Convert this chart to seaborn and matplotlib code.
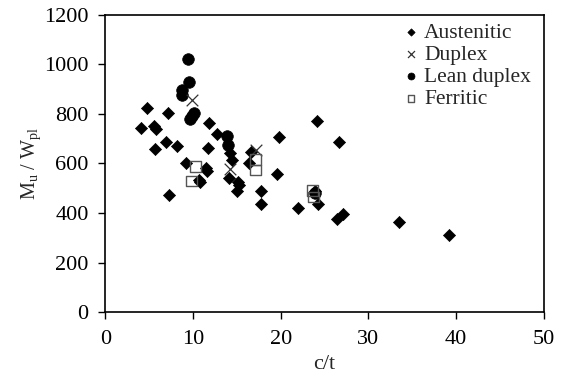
import matplotlib
matplotlib.use("Agg")
import matplotlib.pyplot as plt
import seaborn as sns
from matplotlib import font_manager

# Data (c/t vs Mu/Wpl)
austenitic_x = [4.8, 7.2, 4.05, 5.6, 5.8, 11.8, 12.7, 19.8, 5.7, 6.9, 8.2, 11.7, 14.2,
                14.5, 16.6, 16.4, 9.2, 11.5, 11.6, 14.1, 15.1, 15.2, 15.0, 17.8, 17.8,
                7.3, 22.0, 24.1, 26.6, 19.6, 10.7, 10.8, 23.9, 24.3, 26.4, 27.1, 33.5, 39.2]
austenitic_y = [823, 805, 745, 752, 741, 762, 719, 707, 660, 685, 669, 664, 641,
                615, 648, 604, 604, 580, 571, 540, 527, 513, 490, 490, 438,
                473, 419, 772, 686, 556, 533, 524, 490, 437, 375, 396, 362, 311]

duplex_x = [9.9, 14.2, 17.2]
duplex_y = [857, 578, 656]

lean_x = [9.4, 9.6, 8.8, 8.8, 10.1, 9.9, 9.7, 13.85, 14.0, 23.9]
lean_y = [1021, 928, 897, 876, 802, 790, 778, 711, 675, 482]

ferritic_x = [10.3, 9.8, 17.1, 17.1, 23.6, 23.7]
ferritic_y = [587, 529, 617, 574, 492, 465]

# Times-like font
names = {f.name for f in font_manager.fontManager.ttflist}
serif = [n for n in ["Liberation Serif", "Nimbus Roman", "DejaVu Serif"] if n in names]

sns.set_style("ticks")
plt.rcParams['font.family'] = serif
plt.rcParams['mathtext.fontset'] = 'custom'
plt.rcParams['mathtext.rm'] = serif[0]
plt.rcParams['mathtext.it'] = serif[0] + ':italic'

fig = plt.figure(figsize=(5.63, 3.82), dpi=100)
ax = fig.add_axes([0.187, 0.183, 0.779, 0.778])

sns.scatterplot(x=austenitic_x, y=austenitic_y, marker="D", s=38, color="black",
                edgecolor="black", linewidth=0.5, label="Austenitic", ax=ax, zorder=3)
sns.scatterplot(x=duplex_x, y=duplex_y, marker="x", s=70, color="#333333",
                linewidth=0.9, label="Duplex", ax=ax, zorder=4)
sns.scatterplot(x=lean_x, y=lean_y, marker="o", s=70, color="black",
                edgecolor="black", linewidth=0.5, label="Lean duplex", ax=ax, zorder=3)
sns.scatterplot(x=ferritic_x, y=ferritic_y, marker="s", s=60, facecolor="none",
                edgecolor="#555555", linewidth=1.0, label="Ferritic", ax=ax, zorder=4)

ax.set_xlim(0, 50)
ax.set_ylim(0, 1200)
ax.set_xticks(range(0, 51, 10))
ax.set_yticks(range(0, 1201, 200))
ax.tick_params(direction="out", length=5, width=1, labelsize=16, colors="black")
ax.tick_params(axis="x", pad=8)
ax.tick_params(axis="y", pad=7)
for sp in ax.spines.values():
    sp.set_linewidth(1.2)
    sp.set_color("black")

ax.set_xlabel("c/t", fontsize=16, labelpad=4)
ax.set_ylabel(r"$\mathregular{M_u}$ / $\mathregular{W_{pl}}$", fontsize=14.5, labelpad=1)

leg = ax.legend(loc="upper right", bbox_to_anchor=(1.0, 1.018), frameon=False,
                fontsize=15.5, markerscale=0.6, handletextpad=0.1, handlelength=1.0,
                labelspacing=0.1, borderaxespad=0.2)

plt.savefig("out.png", dpi=100)
